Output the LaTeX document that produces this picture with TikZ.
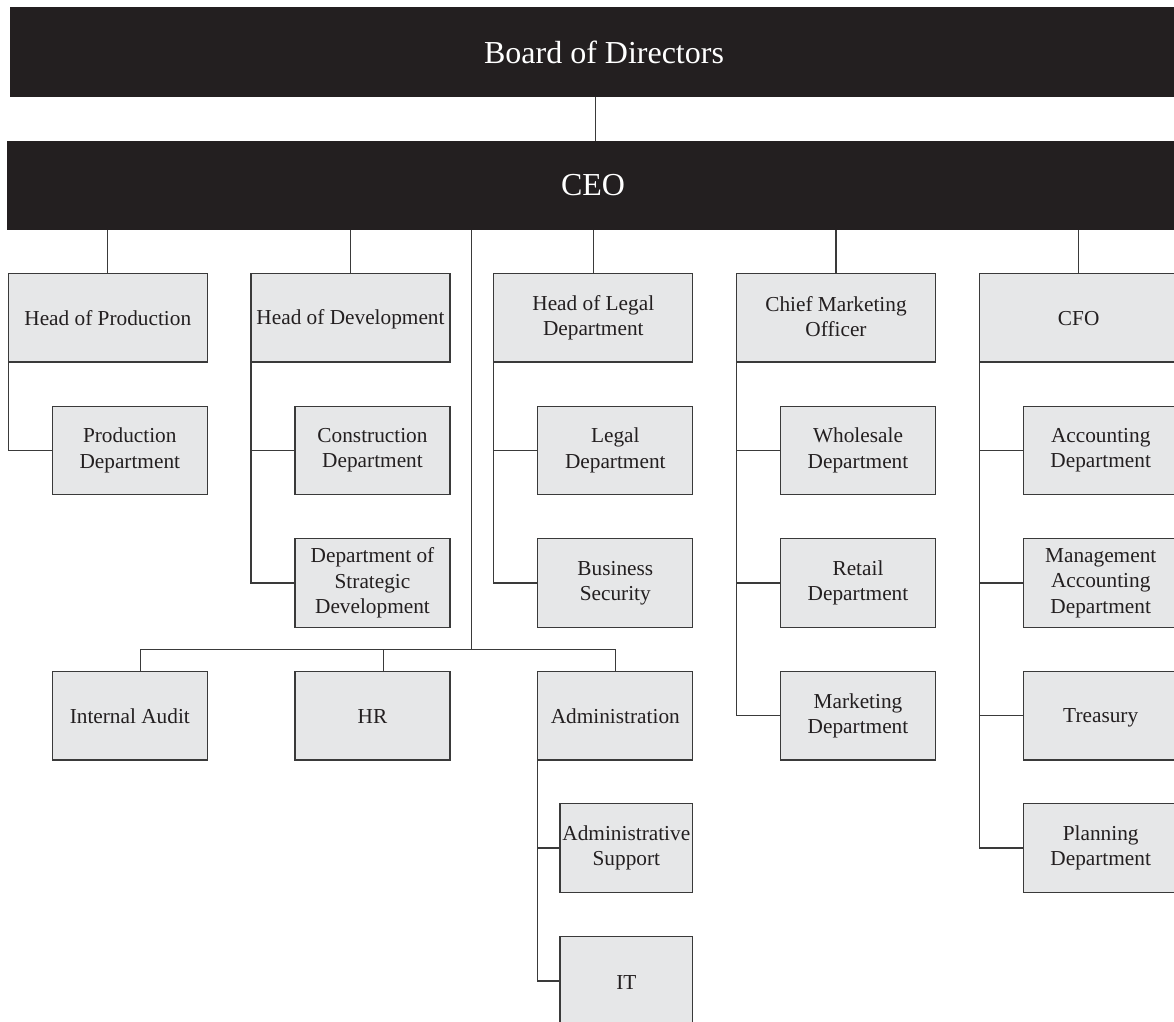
\documentclass[tikz,border=0pt]{standalone}
\usepackage{fontspec}
\setmainfont{Liberation Serif}
\definecolor{barblack}{HTML}{231F20}
\definecolor{boxgray}{HTML}{E6E7E8}
\definecolor{linegray}{HTML}{3A3A3A}
\newcommand{\boxstrut}{\rule[-2pt]{0pt}{20pt}}
\begin{document}
\begin{tikzpicture}[x=1pt,y=-1pt,
  bar/.style={fill=barblack, text=white, draw=none, inner sep=0pt, outer sep=0pt,
    font=\fontsize{32}{38}\selectfont},
  orgbox/.style={fill=boxgray, draw=linegray, line width=1.2pt, inner sep=0pt, outer sep=0pt,
    align=center, text=barblack, minimum height=88.5pt,
    font=\fontsize{21.3}{25.3}\selectfont,
    execute at begin node=\boxstrut, execute at end node=\boxstrut},
  headbox/.style={orgbox, minimum width=199pt},
  subbox/.style={orgbox, minimum width=155pt},
  smallbox/.style={orgbox, minimum width=132.7pt},
  link/.style={draw=linegray, line width=1.2pt}
]
\useasboundingbox (0,0) rectangle (1174,1021);
\clip (0,0) rectangle (1174,1021);
\fill[white] (0,0) rectangle (1174,1021);

% bars
\node[bar, minimum width=1188pt, minimum height=89.7pt] (board) at (604,52.2) {Board of Directors};
\node[bar, minimum width=1171.4pt, minimum height=89.3pt] (ceo) at (593,185.4) {CEO};

% head row
\node[headbox] (hp)  at (107.8,317.75) {Head of Production};
\node[headbox] (hd)  at (350.5,317.75) {Head of Development};
\node[headbox] (hl)  at (593.3,317.75) {Head of Legal\\Department};
\node[headbox] (cmo) at (836.0,317.75) {Chief Marketing\\Officer};
\node[headbox] (cfo) at (1078.7,317.75) {CFO};

% production
\node[subbox] (pd) at (129.8,450.5) {Production\\Department};
% development
\node[subbox] (cd) at (372.5,450.5) {Construction\\Department};
\node[subbox] (sd) at (372.5,583) {Department of\\Strategic\\Development};
% legal
\node[subbox] (ld) at (615.3,450.5) {Legal\\Department};
\node[subbox] (bs) at (615.3,583) {Business\\Security};
% marketing
\node[subbox] (wd) at (858.0,450.5) {Wholesale\\Department};
\node[subbox] (rd) at (858.0,583) {Retail\\Department};
\node[subbox] (md) at (858.0,715.75) {Marketing\\Department};
% finance
\node[subbox] (ad) at (1100.7,450.5) {Accounting\\Department};
\node[subbox] (mad) at (1100.7,583) {Management\\Accounting\\Department};
\node[subbox] (tr) at (1100.7,715.75) {Treasury};
\node[subbox] (pl) at (1100.7,848) {Planning\\Department};

% direct reports
\node[subbox] (ia) at (129.8,715.75) {Internal Audit};
\node[subbox] (hr) at (372.5,715.75) {HR};
\node[subbox] (adm) at (615.3,715.75) {Administration};
\node[smallbox] (as) at (626.35,848) {Administrative\\Support};
\node[smallbox] (it) at (626.35,981) {IT};

% board to CEO
\coordinate (bc) at (595.3,120);
\draw[link] (bc |- board.south) -- (bc |- ceo.north);

% CEO to heads
\foreach \h in {hp,hd,hl,cmo,cfo}{
  \draw[link] (\h.north |- ceo.south) -- (\h.north);
}

% trunks
\draw[link] (hp.south west) |- (pd.west);
\draw[link] (hd.south west) |- (sd.west);
\draw[link] (cd.west -| hd.south west) -- (cd.west);
\draw[link] (hl.south west) |- (bs.west);
\draw[link] (ld.west -| hl.south west) -- (ld.west);
\draw[link] (cmo.south west) |- (md.west);
\draw[link] (wd.west -| cmo.south west) -- (wd.west);
\draw[link] (rd.west -| cmo.south west) -- (rd.west);
\draw[link] (cfo.south west) |- (pl.west);
\draw[link] (ad.west -| cfo.south west) -- (ad.west);
\draw[link] (mad.west -| cfo.south west) -- (mad.west);
\draw[link] (tr.west -| cfo.south west) -- (tr.west);

% central trunk and bus
\coordinate (bus) at (471.7,649.3);
\coordinate (busL) at (140.6,649.3);
\coordinate (busH) at (383.6,649.3);
\draw[link] (bus |- ceo.south) -- (bus);
\draw[link] (busL) -- (adm.north |- bus) -- (adm.north);
\draw[link] (busL) -- (busL |- ia.north);
\draw[link] (busH) -- (busH |- hr.north);

% administration
\draw[link] (adm.south west) |- (it.west);
\draw[link] (as.west -| adm.south west) -- (as.west);
\end{tikzpicture}
\end{document}
